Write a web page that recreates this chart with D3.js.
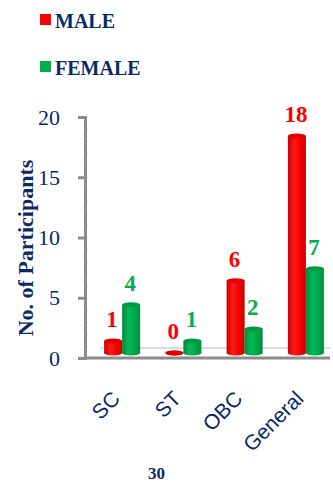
<!DOCTYPE html>
<html lang="en">
<head>
	<meta charset="UTF-8">
	<title>participants by category</title>
	<style>
		body { margin: 0; background: #fff; }
		svg { display: block; }
	</style>
</head>
<body>
	<svg id="container" width="333" height="484"></svg>
</body>
<script src="https://cdn.jsdelivr.net/npm/d3@7"></script>
<script>
	let categories = ["SC", "ST", "OBC", "General"]
	let male = [1, 0, 6, 18]
	let female = [4, 1, 2, 7]
	let yTicks = [0, 5, 10, 15, 20]

	let navy = "#0b2a62"
	let red = "#ff0000"
	let green = "#00b050"

	let svg = d3.select("#container")

	// 3d look: the front of the bars sits a bit right of and above the axes
	let dx = 6.5, dy = 5

	let x = d3.scaleBand()
		.domain(categories)
		.range([85, 330])
	let x1 = d3.scaleBand()
		.domain(["male", "female"])
		.range([0, x.bandwidth()])
		.paddingOuter(0.7)
	let y = d3.scaleLinear()
		.domain([0, 20])
		.range([358, 117])

	let defs = svg.append("defs")
	function cylGrad(id, dark, mid, light){
		let g = defs.append("linearGradient").attr("id", id)
		g.append("stop").attr("offset", "0%").attr("stop-color", dark)
		g.append("stop").attr("offset", "35%").attr("stop-color", light)
		g.append("stop").attr("offset", "70%").attr("stop-color", mid)
		g.append("stop").attr("offset", "100%").attr("stop-color", dark)
	}
	cylGrad("gMale", "#c80000", "#f20000", "#ff1a1a")
	cylGrad("gFemale", "#008a3e", "#00a64b", "#00b856")

	// floor line behind the bars
	svg.append("line")
		.attr("x1", 100).attr("x2", 330)
		.attr("y1", y(0) - 10).attr("y2", y(0) - 10)
		.attr("stroke", "#dcdcdc").attr("stroke-width", 2)

	// minor ticks
	let minor = svg.append("g")
		.attr("transform", "translate(85,0)")
		.call(d3.axisRight(y).ticks(20).tickSize(3).tickFormat(""))
	minor.select(".domain").remove()
	minor.selectAll("line").attr("stroke", "#cfcfcf")

	let yAxis = svg.append("g")
		.attr("transform", "translate(85,0)")
		.call(d3.axisLeft(y).tickValues(yTicks).tickSize(7).tickPadding(18))
	yAxis.select(".domain").attr("stroke", "#8c8c8c").attr("stroke-width", 3)
	yAxis.selectAll(".tick line").attr("stroke", "#8c8c8c").attr("stroke-width", 3)
	yAxis.selectAll("text")
		.attr("fill", navy)
		.style("font-family", "Liberation Serif")
		.style("font-size", "22px")

	// x axis line
	svg.append("line")
		.attr("x1", 85).attr("x2", 330)
		.attr("y1", y(0)).attr("y2", y(0))
		.attr("stroke", "#8c8c8c").attr("stroke-width", 3)

	let rows = []
	categories.forEach((c, i) => {
		rows.push({cat: c, key: "male", val: male[i], col: red, grad: "url(#gMale)", cap: "#e00000"})
		rows.push({cat: c, key: "female", val: female[i], col: green, grad: "url(#gFemale)", cap: "#009a45"})
	})

	let bw = x1.bandwidth()
	let g = svg.selectAll(".bar")
		.data(rows)
		.enter()
		.append("g")
		.attr("class", "bar")
		.attr("transform", d => "translate(" + (x(d.cat) + x1(d.key) + dx) + "," + (-dy) + ")")

	g.append("ellipse")
		.attr("cx", bw / 2).attr("cy", y(0))
		.attr("rx", bw / 2).attr("ry", 2.5)
		.attr("fill", d => d.grad)
	g.append("rect")
		.attr("x", 0).attr("width", bw)
		.attr("y", d => y(d.val))
		.attr("height", d => y(0) - y(d.val))
		.attr("fill", d => d.grad)
	g.append("ellipse")
		.attr("cx", bw / 2).attr("cy", d => y(d.val))
		.attr("rx", bw / 2).attr("ry", 2.5)
		.attr("fill", d => d.cap)
	g.append("text")
		.attr("x", bw / 2 - 1)
		.attr("y", d => y(d.val) - 14)
		.attr("text-anchor", "middle")
		.attr("fill", d => d.col)
		.style("font-family", "Liberation Serif")
		.style("font-weight", "bold")
		.style("font-size", "23px")
		.text(d => d.val)

	// category labels
	svg.selectAll(".cat")
		.data(categories)
		.enter()
		.append("text")
		.attr("class", "cat")
		.attr("transform", d => "translate(" + (x(d) + x.bandwidth() / 2 + dx - 1) + ",400) rotate(-45)")
		.attr("text-anchor", "end")
		.attr("fill", navy)
		.style("font-family", "Liberation Sans")
		.style("font-size", "21px")
		.text(d => d)

	svg.append("text")
		.attr("transform", "translate(33,248) rotate(-90)")
		.attr("text-anchor", "middle")
		.attr("fill", navy)
		.style("font-family", "Liberation Serif")
		.style("font-weight", "bold")
		.style("font-size", "22px")
		.text("No. of Participants")

	// legend
	let legend = [{name: "MALE", col: red, y: 14}, {name: "FEMALE", col: green, y: 61}]
	let lg = svg.selectAll(".legend")
		.data(legend)
		.enter()
		.append("g")
		.attr("class", "legend")
	lg.append("rect")
		.attr("x", 40).attr("y", d => d.y)
		.attr("width", 11).attr("height", 11)
		.attr("fill", d => d.col)
	lg.append("text")
		.attr("x", 55).attr("y", d => d.y + 14)
		.attr("fill", navy)
		.style("font-family", "Liberation Serif")
		.style("font-weight", "bold")
		.style("font-size", "20px")
		.text(d => d.name)

	svg.append("text")
		.attr("x", 148).attr("y", 479)
		.attr("fill", navy)
		.style("font-family", "Liberation Serif")
		.style("font-weight", "bold")
		.style("font-size", "17px")
		.text("30")
</script>
</html>
